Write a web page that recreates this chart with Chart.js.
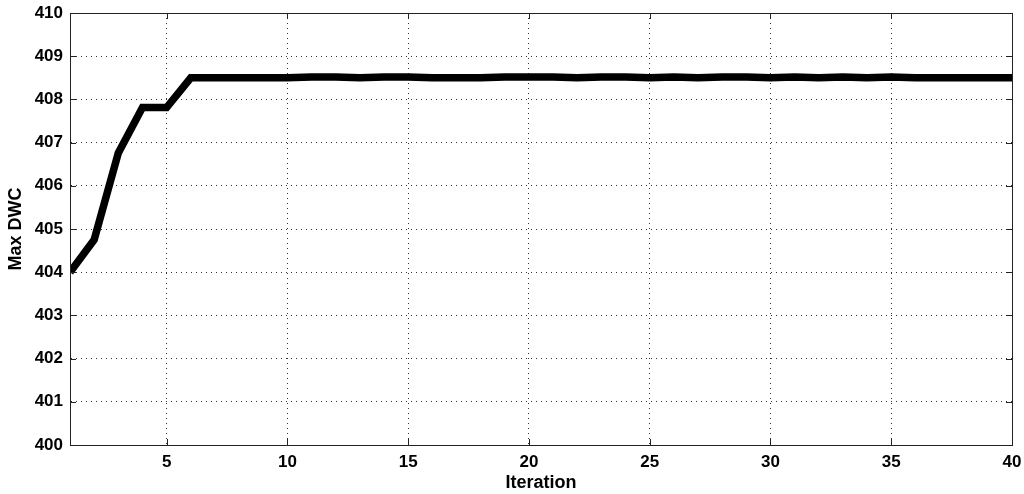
<!DOCTYPE html>
<html>
<head>
<meta charset="utf-8">
<script src="https://cdn.jsdelivr.net/npm/chart.js@4.4.0/dist/chart.umd.min.js"></script>
<style>
  html, body { margin: 0; padding: 0; background: #fff; }
  #wrap { width: 1024px; height: 494px; }
</style>
</head>
<body>
<div id="wrap"><canvas id="dwcChart" width="1024" height="494"></canvas></div>
<script>
// iteration number and max DWC
var iterations = [];
for (var i = 1; i <= 40; i++) iterations.push(i);
var maxDWC = [404.0, 404.75, 406.76, 407.81, 407.81, 408.5, 408.5, 408.5, 408.5, 408.5,
              408.52, 408.52, 408.5, 408.52, 408.52, 408.5, 408.5, 408.5, 408.52, 408.52,
              408.52, 408.5, 408.52, 408.52, 408.5, 408.52, 408.5, 408.52, 408.52, 408.5,
              408.52, 408.5, 408.52, 408.5, 408.52, 408.5, 408.5, 408.5, 408.5, 408.5];
var xTicks = [5, 10, 15, 20, 25, 30, 35, 40];
var yTicks = [400, 401, 402, 403, 404, 405, 406, 407, 408, 409, 410];

var tickFont = { family: "'Liberation Sans', Arial, sans-serif", size: 17, weight: 'bold' };
var titleFont = { family: "'Liberation Sans', Arial, sans-serif", size: 18, weight: 'bold' };

// box round the plot and the small inward ticks, like matlab
var boxPlugin = {
    id: 'box',
    afterDatasetsDraw: function (chart) {
        var ctx = chart.ctx, a = chart.chartArea;
        var xs = chart.scales.x, ys = chart.scales.y;
        ctx.save();
        ctx.strokeStyle = '#222';
        ctx.lineWidth = 1;
        ctx.beginPath();
        for (var v of xTicks) {
            var px = Math.round(xs.getPixelForValue(v)) + 0.5;
            ctx.moveTo(px, a.bottom); ctx.lineTo(px, a.bottom - 6);
            ctx.moveTo(px, a.top); ctx.lineTo(px, a.top + 6);
        }
        for (var w of yTicks) {
            var py = Math.round(ys.getPixelForValue(w)) + 0.5;
            ctx.moveTo(a.left, py); ctx.lineTo(a.left + 6, py);
            ctx.moveTo(a.right, py); ctx.lineTo(a.right - 6, py);
        }
        ctx.stroke();
        ctx.strokeRect(Math.round(a.left) + 0.5, Math.round(a.top) + 0.5,
                       Math.round(a.right - a.left), Math.round(a.bottom - a.top));
        ctx.restore();
    }
};

var points = iterations.map(function (it, k) { return { x: it, y: maxDWC[k] }; });

var ctx = document.getElementById('dwcChart').getContext('2d');
var dwcChart = new Chart(ctx, {
    type: 'line',
    data: {
        datasets: [{
            data: points,
            borderColor: '#000',
            borderWidth: 7.5,
            pointRadius: 0,
            tension: 0,
            fill: false,
            borderJoinStyle: 'miter'
        }]
    },
    options: {
        responsive: false,
        animation: false,
        layout: { padding: { top: 13, right: 12, left: 0, bottom: 0 } },
        plugins: { legend: { display: false }, tooltip: { enabled: false } },
        scales: {
            x: {
                type: 'linear',
                min: 1, max: 40,
                afterBuildTicks: function (s) { s.ticks = xTicks.map(function (v) { return { value: v }; }); },
                afterFit: function (s) { s.height = 49; s.paddingRight = 0; s.paddingLeft = 0; },
                grid: { color: '#333', drawTicks: false, lineWidth: 1 },
                border: { display: true, color: '#222', dash: [1, 4] },
                ticks: { color: '#000', font: tickFont, padding: 7, maxRotation: 0 },
                title: { display: true, text: 'Iteration', color: '#000', font: titleFont, padding: { top: 2, bottom: 0 } }
            },
            y: {
                min: 400, max: 410,
                afterBuildTicks: function (s) { s.ticks = yTicks.map(function (v) { return { value: v }; }); },
                afterFit: function (s) { s.width = 70; s.paddingTop = 0; s.paddingBottom = 0; },
                grid: { color: '#333', drawTicks: false, lineWidth: 1 },
                border: { display: true, color: '#222', dash: [1, 4] },
                ticks: { color: '#000', font: tickFont, padding: 7 },
                title: { display: true, text: 'Max DWC', color: '#000', font: titleFont, padding: { top: 5, bottom: 0 } }
            }
        }
    },
    plugins: [boxPlugin]
});
</script>
</body>
</html>
